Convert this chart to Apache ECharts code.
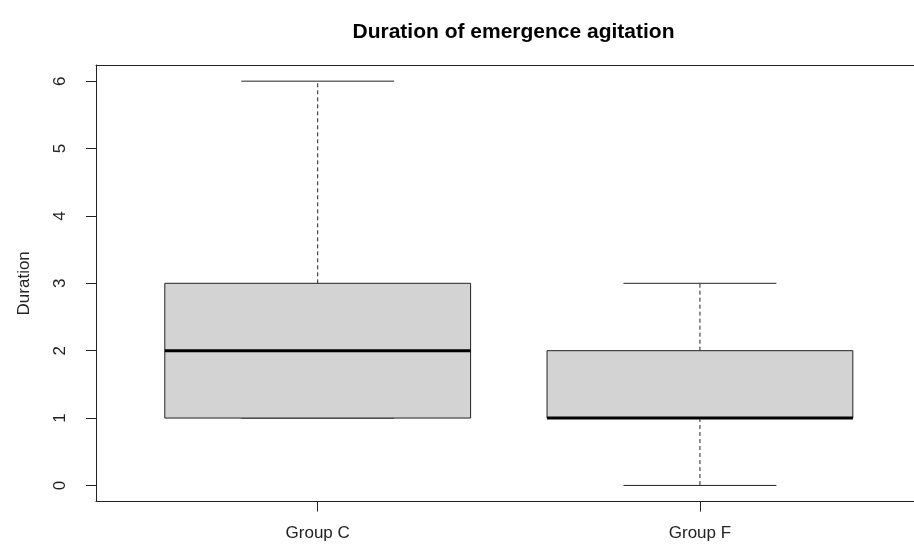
<!DOCTYPE html>
<html>
<head>
<meta charset="utf-8">
<script src="https://cdn.jsdelivr.net/npm/echarts@6/dist/echarts.min.js"></script>
<style>
html,body{margin:0;padding:0;background:#fff;}
#chart{width:914px;height:547px;}
</style>
</head>
<body>
<div id="chart"></div>
<script>
// Data (R boxplot statistics)
var categories = ['Group C', 'Group F'];
var whiskerLow  = [1, 0];
var q1Values    = [1, 1];
var medians     = [2, 1];
var q3Values    = [3, 2];
var whiskerHigh = [6, 3];
var yTicks = [0, 1, 2, 3, 4, 5, 6];
var xTicks = [1, 2];

var FONT = '"Liberation Sans", Arial, sans-serif';

var seriesData = categories.map(function (c, i) {
  return [i + 1, whiskerLow[i], q1Values[i], medians[i], q3Values[i], whiskerHigh[i]];
});

var BOX_HALF = 0.4;
var CAP_HALF = 0.2;

function renderItem(params, api) {
  var x = api.value(0);
  var lo = api.value(1), q1 = api.value(2), md = api.value(3), q3 = api.value(4), hi = api.value(5);
  var pL = api.coord([x - BOX_HALF, q3]);
  var pR = api.coord([x + BOX_HALF, q1]);
  var cx = api.coord([x, 0])[0];
  var capL = api.coord([x - CAP_HALF, 0])[0];
  var capR = api.coord([x + CAP_HALF, 0])[0];
  var yLo = api.coord([x, lo])[1];
  var yQ1 = api.coord([x, q1])[1];
  var yMd = api.coord([x, md])[1];
  var yQ3 = api.coord([x, q3])[1];
  var yHi = api.coord([x, hi])[1];
  var lineStyle = {stroke: '#222', lineWidth: 1};
  var dashStyle = {stroke: '#222', lineWidth: 1, lineDash: [4, 3]};
  return {
    type: 'group',
    children: [
      {type: 'line', shape: {x1: cx, y1: yQ3, x2: cx, y2: yHi}, style: dashStyle},
      {type: 'line', shape: {x1: cx, y1: yQ1, x2: cx, y2: yLo}, style: dashStyle},
      {type: 'line', shape: {x1: capL, y1: yHi, x2: capR, y2: yHi}, style: lineStyle},
      {type: 'line', shape: {x1: capL, y1: yLo, x2: capR, y2: yLo}, style: lineStyle},
      {type: 'rect', shape: {x: pL[0], y: yQ3, width: pR[0] - pL[0], height: yQ1 - yQ3},
        style: {fill: '#d3d3d3', stroke: '#222', lineWidth: 1}},
      {type: 'line', shape: {x1: pL[0], y1: yMd, x2: pR[0], y2: yMd}, style: {stroke: '#000', lineWidth: 3}}
    ]
  };
}

var axisLineStyle = {color: '#222', width: 1};

var chart = echarts.init(document.getElementById('chart'), null, {renderer: 'canvas'});
chart.setOption({
  animation: false,
  backgroundColor: '#fff',
  title: {
    text: 'Duration of emergence agitation',
    left: 508.5,
    textAlign: 'center',
    top: 17,
    textStyle: {fontFamily: FONT, fontWeight: 'bold', fontSize: 21, color: '#000'}
  },
  grid: {
    left: 96, top: 65, width: 818, height: 436.6,
    show: false,
    containLabel: false
  },
  xAxis: [{
    type: 'value',
    position: 'bottom',
    min: 0.42, max: 2.56,
    splitLine: {show: false},
    axisLine: {show: true, onZero: false, lineStyle: axisLineStyle},
    axisTick: {show: true, length: 10, customValues: xTicks, lineStyle: {color: '#222'}},
    axisLabel: {
      show: true, customValues: xTicks, margin: 23,
      fontFamily: FONT, fontSize: 17, color: '#222',
      formatter: function (v) { return categories[Math.round(v) - 1] || ''; }
    }
  }, {
    type: 'value',
    position: 'top',
    min: 0.42, max: 2.56,
    splitLine: {show: false},
    axisLine: {show: true, onZero: false, lineStyle: axisLineStyle},
    axisTick: {show: false},
    axisLabel: {show: false}
  }],
  yAxis: {
    type: 'value',
    min: -0.24, max: 6.24,
    name: 'Duration',
    nameLocation: 'middle',
    nameRotate: 90,
    nameGap: 63,
    nameTextStyle: {fontFamily: FONT, fontSize: 17, color: '#222'},
    splitLine: {show: false},
    axisLine: {show: true, onZero: false, lineStyle: axisLineStyle},
    axisTick: {show: true, length: 10, customValues: yTicks, lineStyle: {color: '#222'}},
    axisLabel: {
      show: true, customValues: yTicks, rotate: 90, margin: 27,
      fontFamily: FONT, fontSize: 17, color: '#222'
    }
  },
  series: [{
    type: 'custom',
    renderItem: renderItem,
    data: seriesData,
    xAxisIndex: 0,
    encode: {x: 0, y: [1, 2, 3, 4, 5]},
    clip: false
  }]
});
</script>
</body>
</html>
